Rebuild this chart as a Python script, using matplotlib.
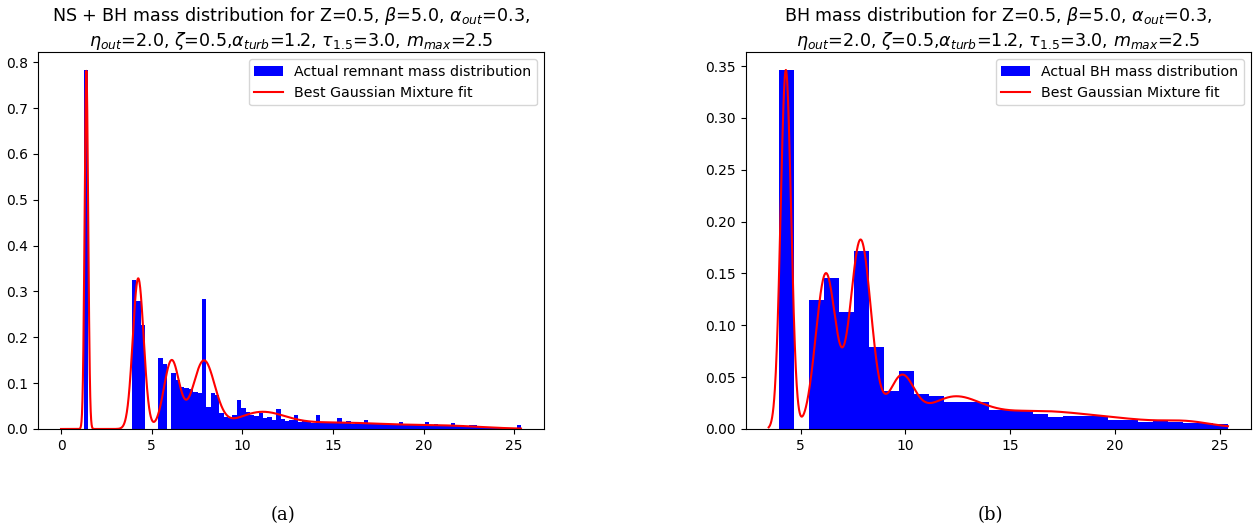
import numpy as np
import matplotlib
matplotlib.use("Agg")
import matplotlib.pyplot as plt

# left panel: NS + BH remnant masses, 100 density bins
ns_bh_range = (1.26, 25.38)
ns_bh_heights = [
    0.783, 0, 0, 0, 0, 0, 0, 0, 0, 0,
    0, 0.325, 0.279, 0.227, 0, 0, 0, 0.154, 0.141, 0,
    0.122, 0.107, 0.092, 0.090, 0.088, 0.080, 0.078, 0.284, 0.049, 0.078,
    0.075, 0.035, 0.027, 0.025, 0.030, 0.064, 0.045, 0.038, 0.030, 0.028,
    0.034, 0.024, 0.026, 0.020, 0.044, 0.022, 0.018, 0.020, 0.030, 0.016,
    0.018, 0.016, 0.014, 0.030, 0.015, 0.014, 0.012, 0.014, 0.025, 0.012,
    0.018, 0.010, 0.014, 0.012, 0.020, 0.010, 0.012, 0.010, 0.012, 0.011,
    0.008, 0.010, 0.015, 0.010, 0.009, 0.008, 0.010, 0.009, 0.016, 0.009,
    0.010, 0.008, 0.007, 0.009, 0.012, 0.006, 0.008, 0.007, 0.008, 0.009,
    0.006, 0.005, 0.004, 0.004, 0.003, 0.003, 0.002, 0.002, 0.003, 0.008,
]
# gaussian mixture fit (weight, mean, sigma)
ns_bh_gm_w = [0.190, 0.247, 0.156, 0.220, 0.098, 0.123, 0.025]
ns_bh_gm_mu = [1.40, 4.26, 6.10, 7.88, 11.0, 15.0, 21.5]
ns_bh_gm_sig = [0.097, 0.30, 0.42, 0.60, 1.3, 3.5, 2.0]
ns_bh_curve_range = (0.0, 25.38)

# right panel: BH masses only, 30 density bins
bh_range = (3.97, 25.40)
bh_heights = [
    0.346, 0, 0.124, 0.146, 0.113, 0.172, 0.079, 0.037, 0.056, 0.034,
    0.032, 0.026, 0.026, 0.026, 0.018, 0.018, 0.018, 0.0145, 0.012, 0.013,
    0.013, 0.013, 0.009, 0.009, 0.007, 0.0087, 0.007, 0.0055, 0.0055, 0.0045,
]
bh_gm_w = [0.217, 0.180, 0.228, 0.070, 0.082, 0.075, 0.079, 0.0075]
bh_gm_mu = [4.29, 6.20, 7.86, 9.80, 12.2, 15.5, 19.5, 23.5]
bh_gm_sig = [0.25, 0.48, 0.50, 0.60, 1.3, 2.5, 3.5, 1.0]
bh_curve_range = (3.47, 25.40)

title_params = (r"$\eta_{out}$=2.0, $\zeta$=0.5,$\alpha_{turb}$=1.2, "
                r"$\tau_{1.5}$=3.0, $m_{max}$=2.5")
titles = [
    r"NS + BH mass distribution for Z=0.5, $\beta$=5.0, $\alpha_{out}$=0.3," + "\n" + title_params,
    r"BH mass distribution for Z=0.5, $\beta$=5.0, $\alpha_{out}$=0.3," + "\n" + title_params,
]
hist_labels = ["Actual remnant mass distribution", "Actual BH mass distribution"]


def gm_pdf(x, w, mu, sig):
    x = np.asarray(x)[:, None]
    w, mu, sig = np.array(w), np.array(mu), np.array(sig)
    return (w / (sig * np.sqrt(2 * np.pi)) * np.exp(-0.5 * ((x - mu) / sig) ** 2)).sum(axis=1)


def draw(ax, rng, heights, w, mu, sig, crange, title, label):
    edges = np.linspace(rng[0], rng[1], len(heights) + 1)
    bars = ax.bar(edges[:-1], heights, width=np.diff(edges), align="edge", color="blue",
                  linewidth=0, label=label)
    xs = np.linspace(crange[0], crange[1], 2000)
    line, = ax.plot(xs, gm_pdf(xs, w, mu, sig), color="red", lw=1.5,
                    label="Best Gaussian Mixture fit")
    ax.set_title(title, fontsize=12.6, pad=4)
    ax.legend(handles=[bars, line], loc="upper right", fontsize=10.2)
    ax.tick_params(labelsize=10)


fig = plt.figure(figsize=(12.59, 5.30), dpi=100)
ax1 = fig.add_axes([0.0302, 0.1906, 0.4019, 0.7113])
ax2 = fig.add_axes([0.5923, 0.1906, 0.4013, 0.7113])

draw(ax1, ns_bh_range, ns_bh_heights, ns_bh_gm_w, ns_bh_gm_mu, ns_bh_gm_sig,
     ns_bh_curve_range, titles[0], hist_labels[0])
draw(ax2, bh_range, bh_heights, bh_gm_w, bh_gm_mu, bh_gm_sig,
     bh_curve_range, titles[1], hist_labels[1])
ax1.set_yticks(np.arange(0, 0.81, 0.1))
ax2.set_yticks(np.arange(0, 0.351, 0.05))

fig.text(283 / 1259, 1 - 515 / 530, "(a)", ha="center", va="center",
         family="DejaVu Serif", fontsize=13)
fig.text(990 / 1259, 1 - 515 / 530, "(b)", ha="center", va="center",
         family="DejaVu Serif", fontsize=13)

fig.savefig("out.png", dpi=100)
